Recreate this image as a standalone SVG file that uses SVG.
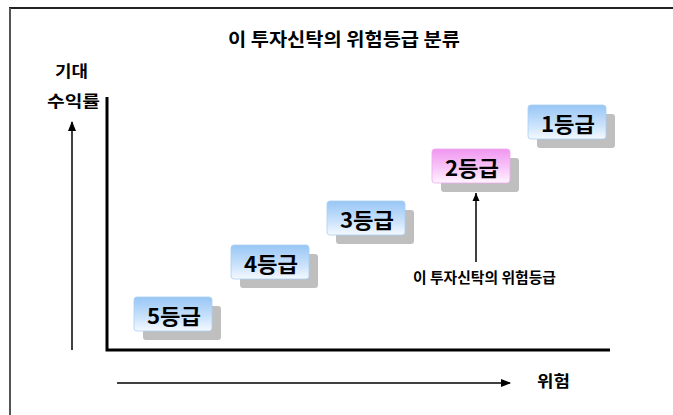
<svg xmlns="http://www.w3.org/2000/svg" width="673" height="415" viewBox="0 0 673 415">
<defs>
<linearGradient id="gBlue" x1="0" y1="0" x2="0" y2="1">
<stop offset="0" stop-color="#98c6f5"/>
<stop offset="0.55" stop-color="#c6e0fb"/>
<stop offset="1" stop-color="#f4f9ff"/>
</linearGradient>
<linearGradient id="gPink" x1="0" y1="0" x2="0" y2="1">
<stop offset="0" stop-color="#f096f0"/>
<stop offset="0.55" stop-color="#f8c6f8"/>
<stop offset="1" stop-color="#fff4ff"/>
</linearGradient>
<marker id="ah" markerWidth="10" markerHeight="8" refX="9" refY="4" orient="auto" markerUnits="userSpaceOnUse">
<path d="M0,0 L10,4 L0,8 Z" fill="#000"/>
</marker>
<marker id="ahs" markerWidth="8" markerHeight="8" refX="8" refY="4" orient="auto" markerUnits="userSpaceOnUse">
<path d="M0,0.5 L8,4 L0,7.5 Z" fill="#000"/>
</marker>
</defs>
<style>
text{font-family:"Noto Sans CJK KR","Liberation Sans",sans-serif;fill:#000;font-weight:bold;}
.title{font-size:18px;}
.lab{font-size:16px;}
.grade{font-size:21px;}
.note{font-size:14.5px;}
.shadow{fill:#bfbfbf;}
.box{stroke:#a9cff2;stroke-width:0.8;}
.pbox{stroke:#eeaaee;stroke-width:0.8;}
.axis{stroke:#000;stroke-width:3;fill:none;}
.arr{stroke:#000;stroke-width:1.5;fill:none;}
</style>
<rect x="0" y="0" width="673" height="415" fill="#fff"/>
<g id="frame">
<line x1="9" y1="8" x2="673" y2="8" stroke="#222" stroke-width="2"/>
<line x1="10" y1="8" x2="10" y2="415" stroke="#555" stroke-width="2"/>
</g>
<text class="title" x="228" y="46" textLength="232" lengthAdjust="spacingAndGlyphs">이 투자신탁의 위험등급 분류</text>
<text class="lab" x="55" y="77" textLength="33" lengthAdjust="spacingAndGlyphs">기대</text>
<text class="lab" x="47" y="107" textLength="53" lengthAdjust="spacingAndGlyphs">수익률</text>
<text class="lab" x="537" y="387" textLength="33" lengthAdjust="spacingAndGlyphs">위험</text>
<g id="connectors">
<polyline class="axis" points="107,97 107,350 610,350"/>
<line class="arr" x1="72" y1="350" x2="72" y2="122" marker-end="url(#ah)"/>
<line class="arr" x1="117" y1="383" x2="510" y2="383" marker-end="url(#ah)"/>
<line class="arr" x1="476" y1="262" x2="476" y2="193" marker-end="url(#ahs)"/>
</g>
<g id="grade5">
<rect class="shadow" x="143" y="306" width="78" height="34" rx="3"/>
<rect class="box" x="134" y="297" width="78" height="34" rx="3" fill="url(#gBlue)"/>
<text class="grade" x="147" y="324" textLength="54" lengthAdjust="spacingAndGlyphs">5등급</text>
</g>
<g id="grade4">
<rect class="shadow" x="240" y="254" width="78" height="34" rx="3"/>
<rect class="box" x="231" y="245" width="78" height="34" rx="3" fill="url(#gBlue)"/>
<text class="grade" x="244" y="272" textLength="54" lengthAdjust="spacingAndGlyphs">4등급</text>
</g>
<g id="grade3">
<rect class="shadow" x="336" y="210" width="78" height="34" rx="3"/>
<rect class="box" x="327" y="201" width="78" height="34" rx="3" fill="url(#gBlue)"/>
<text class="grade" x="340" y="228" textLength="54" lengthAdjust="spacingAndGlyphs">3등급</text>
</g>
<g id="grade2">
<rect class="shadow" x="441" y="158" width="78" height="34" rx="3"/>
<rect class="pbox" x="432" y="149" width="78" height="34" rx="3" fill="url(#gPink)"/>
<text class="grade" x="445" y="176" textLength="54" lengthAdjust="spacingAndGlyphs">2등급</text>
</g>
<g id="grade1">
<rect class="shadow" x="537" y="114" width="78" height="34" rx="3"/>
<rect class="box" x="528" y="105" width="78" height="34" rx="3" fill="url(#gBlue)"/>
<text class="grade" x="541" y="132" textLength="54" lengthAdjust="spacingAndGlyphs">1등급</text>
</g>
<text class="note" x="413" y="283" textLength="143" lengthAdjust="spacingAndGlyphs">이 투자신탁의 위험등급</text>
</svg>
